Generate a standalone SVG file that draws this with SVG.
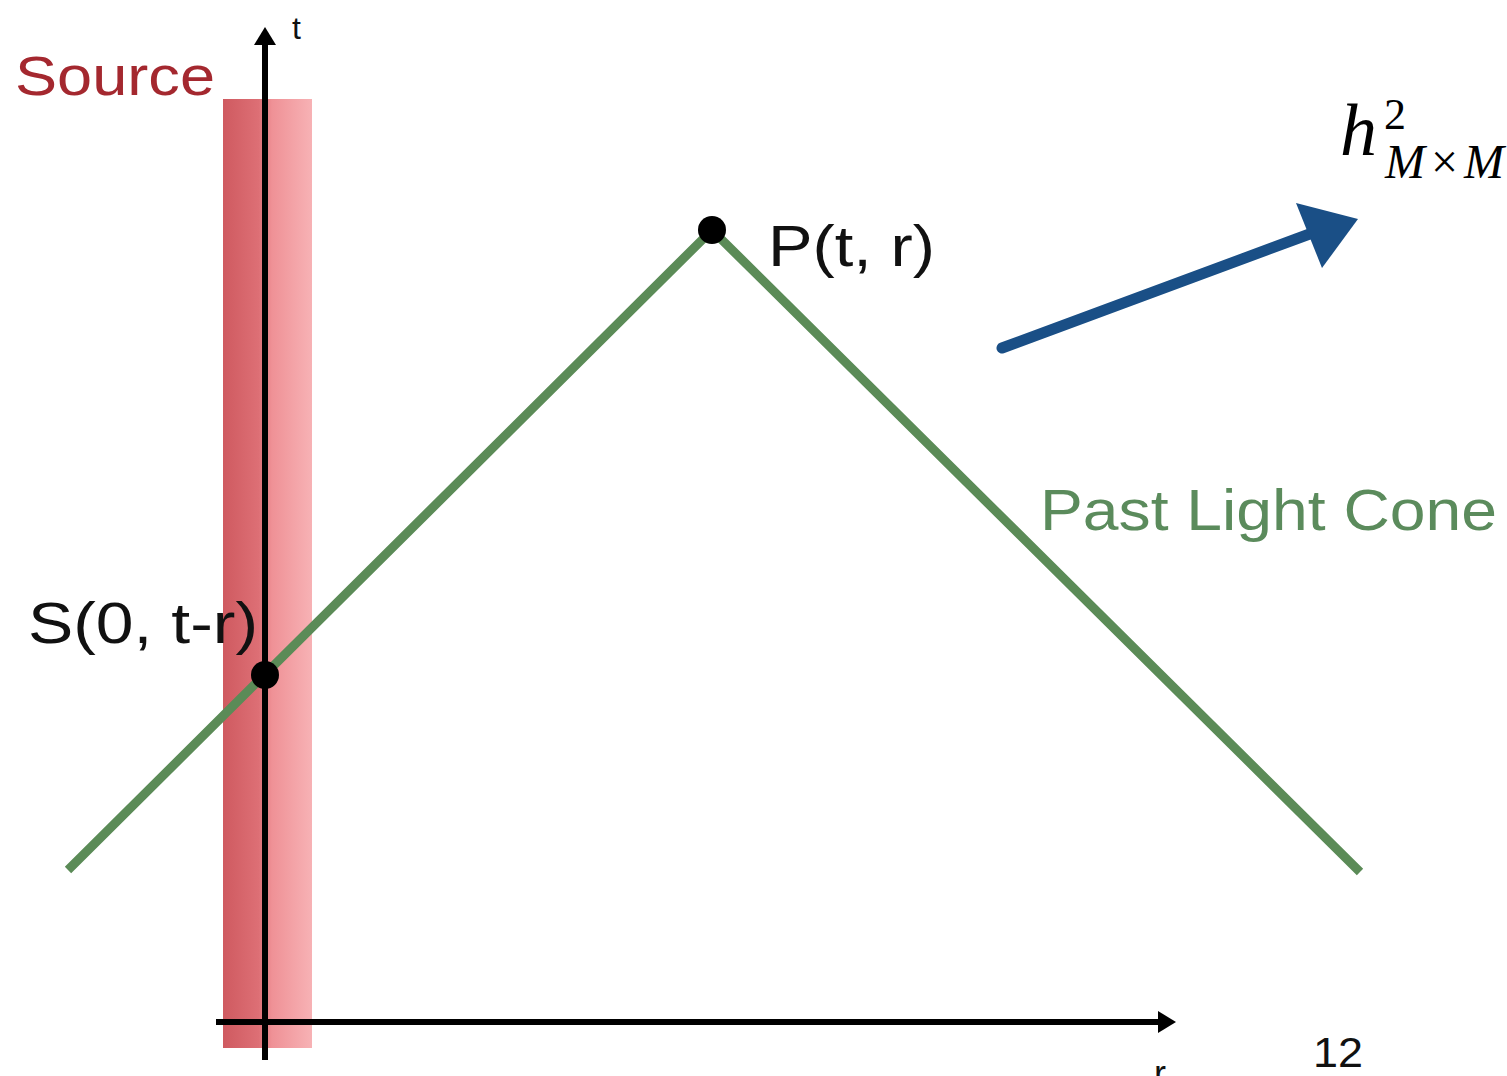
<svg xmlns="http://www.w3.org/2000/svg" width="1507" height="1076" viewBox="0 0 1507 1076">
<defs>
<linearGradient id="band" x1="0" y1="0" x2="1" y2="0">
<stop offset="0" stop-color="#cf5a60"/>
<stop offset="0.4" stop-color="#dd6f75"/>
<stop offset="0.55" stop-color="#ef9196"/>
<stop offset="1" stop-color="#f7b2b5"/>
</linearGradient>
<style>
.lbl{font-family:"Liberation Sans",Arial,sans-serif;}
.axis{stroke:#000;stroke-width:6;fill:none;}
.cone{stroke:#5b8b57;stroke-width:9;fill:none;stroke-linecap:butt;}
.math{font-family:"Liberation Serif","Times New Roman",serif;font-style:italic;fill:#000;}
</style>
</defs>
<rect width="1507" height="1076" fill="#fff"/>
<g id="source-band">
<rect x="223" y="99" width="89" height="949" fill="url(#band)"/>
</g>
<g id="connectors">
<line class="axis" x1="265" y1="1060" x2="265" y2="42"/>
<polygon points="265,27 254,45 276,45" fill="#000"/>
<line class="axis" x1="216" y1="1022" x2="1160" y2="1022"/>
<polygon points="1176,1022 1158,1011 1158,1033" fill="#000"/>
<polyline class="cone" points="68,870 712,230 1360,872"/>
<line x1="1002" y1="348" x2="1315" y2="232" stroke="#1a4f86" stroke-width="11" stroke-linecap="round"/>
<polygon points="1296,203 1358,219 1322,268" fill="#1a4f86"/>
</g>
<g id="point-P">
<circle cx="712" cy="230" r="14" fill="#000"/>
<text class="lbl" x="768" y="266" font-size="58" fill="#111" textLength="167" lengthAdjust="spacingAndGlyphs">P(t, r)</text>
</g>
<g id="point-S">
<circle cx="265" cy="675" r="14" fill="#000"/>
<text class="lbl" x="28" y="643" font-size="58" fill="#111" textLength="230" lengthAdjust="spacingAndGlyphs">S(0, t-r)</text>
</g>
<g id="labels">
<text class="lbl" x="15" y="95" font-size="56" fill="#a4282f" textLength="200" lengthAdjust="spacingAndGlyphs">Source</text>
<text class="lbl" x="292" y="39" font-size="32" fill="#111">t</text>
<text class="lbl" x="1154" y="1086" font-size="36" fill="#111">r</text>
<text class="lbl" x="1040" y="530" font-size="58" fill="#5b8b5c" textLength="457" lengthAdjust="spacingAndGlyphs">Past Light Cone</text>
<text class="lbl" x="1313" y="1067" font-size="42" fill="#111" textLength="50" lengthAdjust="spacingAndGlyphs">12</text>
</g>
<g id="formula">
<text class="math" x="1340" y="155" font-size="74">h</text>
<text x="1384" y="129" font-size="44" font-family="Liberation Serif,serif" fill="#000">2</text>
<text class="math" x="1385" y="178" font-size="48">M<tspan font-style="normal" dx="6">×</tspan><tspan dx="6">M</tspan></text>
</g>
</svg>
